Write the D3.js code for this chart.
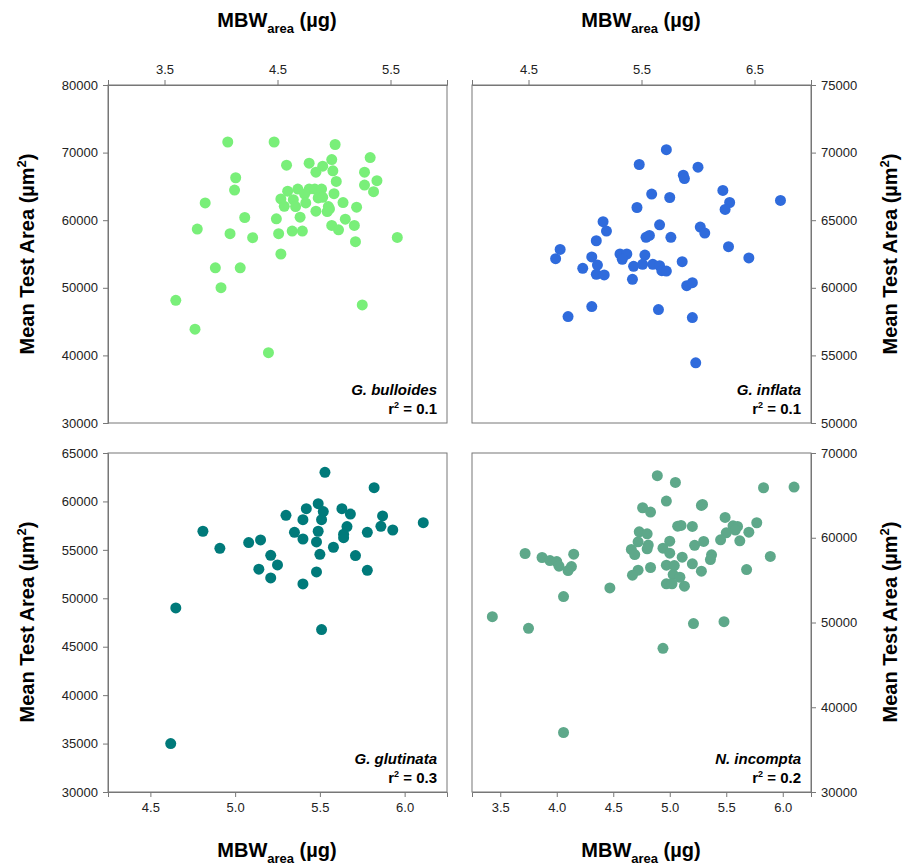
<!DOCTYPE html>
<html><head><meta charset="utf-8">
<script src="https://cdn.jsdelivr.net/npm/d3@7"></script>
<style>
body{margin:0;background:#fff;font-family:"Liberation Sans",Arial,sans-serif}
.tick text{font-size:13px;fill:#222}
.tick line,.domain{stroke:#777}
</style></head>
<body><svg id="chart" width="910" height="865"></svg>
<script>
// G. bulloides [x, y]
const bulloides = [[4.06,71570],[4.47,71570],[5.01,71200],[5.32,69260],[4.58,68140],[4.78,68430],[4.98,68970],[4.90,67990],[4.84,67100],[4.99,67300],[5.27,67100],[5.02,65740],[5.38,65840],[5.27,65200],[5.35,64220],[4.13,66280],[4.12,64460],[3.86,62550],[4.59,64300],[4.68,64610],[4.78,64610],[4.83,64610],[4.89,64610],[5.00,63920],[4.53,63140],[4.64,63040],[4.74,63870],[4.75,62550],[4.86,63290],[4.90,63380],[4.56,62060],[4.66,62010],[4.95,62010],[4.96,61670],[4.94,61280],[4.84,61330],[5.08,62600],[5.20,61920],[4.21,60400],[4.49,60200],[4.70,60450],[5.10,60150],[3.79,58680],[4.08,58000],[4.28,57410],[4.51,58000],[4.63,58390],[4.72,58390],[4.98,59220],[5.04,58580],[5.18,59220],[5.56,57450],[5.19,56820],[4.53,55000],[3.95,52950],[4.17,52950],[4.00,50010],[3.60,48150],[5.25,47460],[3.77,43880],[4.42,40400]];
const inflata = [[5.72,70220],[5.48,69120],[6.00,68920],[5.87,68330],[5.88,68080],[6.22,67200],[6.73,66460],[6.28,66310],[6.24,65800],[5.59,66930],[5.75,66680],[5.46,65940],[5.16,64890],[5.19,64200],[5.66,64660],[6.02,64490],[6.06,64050],[5.54,63730],[5.57,63870],[5.76,63730],[5.10,63480],[4.78,62840],[4.74,62150],[5.06,62280],[5.31,62500],[5.37,62500],[5.33,62110],[5.53,62420],[6.27,63040],[6.45,62210],[5.11,61680],[4.98,61440],[5.43,61590],[5.51,61740],[5.60,61740],[5.66,61640],[5.68,61270],[5.72,61240],[5.86,61930],[5.10,61000],[5.17,60950],[5.42,60630],[5.90,60160],[5.95,60380],[5.06,58610],[4.85,57870],[5.65,58390],[5.95,57800],[5.98,54450]];
const glutinata = [[5.53,63000],[5.82,61420],[5.49,59770],[5.42,59250],[5.52,58950],[5.63,59250],[5.68,58700],[5.30,58570],[5.40,58120],[5.51,58120],[5.87,58500],[5.66,57400],[5.86,57430],[5.93,57050],[6.11,57810],[4.81,56920],[5.35,56810],[5.49,56920],[5.64,56610],[5.64,56260],[5.78,56810],[5.08,55750],[5.15,56020],[5.40,56120],[5.48,55820],[4.91,55160],[5.58,55270],[5.21,54440],[5.50,54540],[5.71,54410],[5.25,53440],[5.14,53000],[5.48,52720],[5.78,52890],[5.21,52100],[5.40,51480],[4.65,49000],[5.51,46770],[4.62,35000]];
const incompta = [[4.89,67320],[5.05,66530],[5.83,65900],[6.10,65980],[4.97,64330],[4.76,63540],[4.83,63030],[5.28,63810],[5.29,63930],[5.49,62400],[5.77,61770],[5.07,61370],[5.10,61450],[5.20,61330],[5.56,61410],[5.60,61330],[5.58,60900],[5.50,60580],[5.70,60660],[4.73,60700],[4.80,60470],[4.72,59520],[4.81,59130],[4.80,58690],[5.22,59110],[5.30,59560],[5.45,59760],[5.62,59640],[5.00,59600],[4.94,58770],[4.66,58620],[4.69,58020],[5.00,58180],[5.11,57710],[5.37,57980],[5.36,57430],[5.89,57790],[3.72,58140],[3.87,57670],[3.94,57310],[4.00,57190],[4.02,56640],[4.15,58060],[4.13,56600],[4.10,56130],[4.97,56760],[5.04,56720],[4.83,56490],[5.20,56920],[5.28,56050],[5.68,56250],[4.72,56170],[4.67,55580],[5.03,55660],[5.09,55340],[4.97,54560],[5.02,54560],[5.13,54280],[4.47,54080],[4.06,53060],[3.43,50690],[3.75,49310],[5.21,49870],[5.48,50100],[4.94,46950],[4.06,37020]];

const panels = [
  {data: bulloides, name: "G. bulloides", r2: "0.1", color: "#79ef79", x: [108,447], y: [85,423],
   xd: [3,6], xt: [3.5,4.5,5.5], yd: [30000,80000], yt: d3.range(30000,80001,10000), xa: "top", ya: "left"},
  {data: inflata, name: "G. inflata", r2: "0.1", color: "#2f6bdc", x: [472,811], y: [85,423],
   xd: [4,7], xt: [4.5,5.5,6.5], yd: [50000,75000], yt: d3.range(50000,75001,5000), xa: "top", ya: "right"},
  {data: glutinata, name: "G. glutinata", r2: "0.3", color: "#007a7a", x: [108,447], y: [453,792],
   xd: [4.25,6.25], xt: [4.5,5.0,5.5,6.0], yd: [30000,65000], yt: d3.range(30000,65001,5000), xa: "bottom", ya: "left"},
  {data: incompta, name: "N. incompta", r2: "0.2", color: "#5ea88a", x: [472,811], y: [453,792],
   xd: [3.25,6.25], xt: [3.5,4.0,4.5,5.0,5.5,6.0], yd: [30000,70000], yt: d3.range(30000,70001,10000), xa: "bottom", ya: "right"}
];

const svg = d3.select("#chart");

panels.forEach(p => {
  const x = d3.scaleLinear().domain(p.xd).range(p.x);
  const y = d3.scaleLinear().domain(p.yd).range([p.y[1], p.y[0]]);
  const g = svg.append("g");

  g.append("rect").attr("x", p.x[0]).attr("y", p.y[0])
   .attr("width", p.x[1]-p.x[0]).attr("height", p.y[1]-p.y[0])
   .attr("fill", "none").attr("stroke", "#777");

  const xAxis = p.xa === "top" ? d3.axisTop(x) : d3.axisBottom(x);
  g.append("g").attr("transform", `translate(0,${p.xa === "top" ? p.y[0] : p.y[1]})`)
   .call(xAxis.tickValues(p.xt).tickFormat(d3.format(".1f")).tickSize(5).tickPadding(6));

  const yAxis = p.ya === "left" ? d3.axisLeft(y) : d3.axisRight(y);
  g.append("g").attr("transform", `translate(${p.ya === "left" ? p.x[0] : p.x[1]},0)`)
   .call(yAxis.tickValues(p.yt).tickFormat(d3.format("d")).tickSize(5).tickPadding(5));

  g.selectAll("circle").data(p.data).enter().append("circle")
   .attr("cx", d => x(d[0])).attr("cy", d => y(d[1])).attr("r", 5.5)
   .attr("fill", p.color);

  g.append("text").attr("x", p.x[1]-10).attr("y", p.y[1]-28)
   .attr("text-anchor", "end").attr("font-size", 15).attr("font-weight", "bold")
   .attr("font-style", "italic").text(p.name);
  const r = g.append("text").attr("x", p.x[1]-10).attr("y", p.y[1]-9)
   .attr("text-anchor", "end").attr("font-size", 15).attr("font-weight", "bold");
  r.append("tspan").text("r");
  r.append("tspan").attr("dy", -6).attr("font-size", 9).text("2");
  r.append("tspan").attr("dy", 6).text(" = " + p.r2);
});

// axis titles
function mbw(cx, cy) {
  const t = svg.append("text").attr("x", cx).attr("y", cy).attr("text-anchor", "middle")
    .attr("font-size", 20).attr("font-weight", "bold");
  t.append("tspan").text("MBW");
  t.append("tspan").attr("dy", 6).attr("font-size", 13).text("area");
  t.append("tspan").attr("dy", -6).text(" (µg)");
}
mbw(277, 27); mbw(641, 27); mbw(277, 857); mbw(641, 857);

function yTitle(cx, cy) {
  const t = svg.append("text").attr("transform", `translate(${cx},${cy}) rotate(-90)`)
    .attr("text-anchor", "middle").attr("font-size", 20).attr("font-weight", "bold");
  t.append("tspan").text("Mean Test Area (µm");
  t.append("tspan").attr("dy", -8).attr("font-size", 13).text("2");
  t.append("tspan").attr("dy", 8).text(")");
}
yTitle(34, 254); yTitle(34, 622);
yTitle(897, 254); yTitle(897, 622);
</script></body></html>
